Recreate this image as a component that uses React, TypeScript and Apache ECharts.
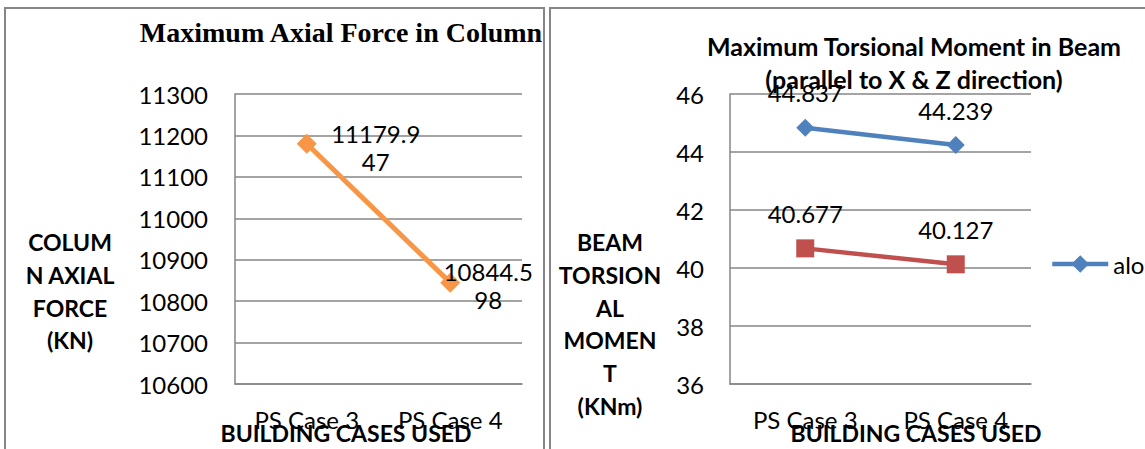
import React, { useEffect, useRef } from "react";
import * as echarts from "echarts";

const categories = ["PS Case 3", "PS Case 4"];
const axialForce = [11179.947, 10844.598];
const torsionX = [44.837, 44.239];
const torsionZ = [40.677, 40.127];
const axialTicks = { min: 10600, max: 11300, interval: 100 };
const torsionTicks = { min: 36, max: 46, interval: 2 };

const SANS = "Lato, 'Open Sans', sans-serif";
const GRAY = "#868686";
const FS = 24;

export default function App() {
  const ref = useRef<HTMLDivElement>(null);
  useEffect(() => {
    document.body.style.margin = "0";
    if (!ref.current) return;
    const chart = echarts.init(ref.current, null, { renderer: "svg" });
    const axialOffsets = [
      [69, 4],
      [38, 3],
    ];
    const tickLabel = (m: number) => ({
      fontFamily: SANS,
      fontSize: FS,
      color: "#000",
      margin: m,
      formatter: (v: number) => String(v),
    });
    const option = {
      animation: false,
      backgroundColor: "#ffffff",
      title: [
        {
          text: "Maximum Axial Force in Column",
          left: 336,
          top: 13,
          textAlign: "center",
          textStyle: {
            fontFamily: "'Liberation Serif', serif",
            fontWeight: "bold",
            fontSize: 28,
            color: "#000",
          },
        },
        {
          text: "Maximum Torsional Moment in Beam\n(parallel to X & Z direction)",
          left: 909,
          top: 24,
          textAlign: "center",
          textStyle: {
            fontFamily: SANS,
            fontWeight: "bold",
            fontSize: 25,
            lineHeight: 33,
            color: "#000",
          },
        },
      ],
      legend: {
        data: ["along X"],
        left: 1050,
        top: 252,
        padding: 0,
        itemWidth: 56,
        itemHeight: 22,
        itemGap: 4,
        lineStyle: { width: 4.5 },
        textStyle: { fontFamily: SANS, fontSize: FS, color: "#000" },
      },
      grid: [
        { left: 235, top: 94, width: 287, height: 290 },
        { left: 730, top: 94, width: 301, height: 290 },
      ],
      xAxis: [0, 1].map((i) => ({
        type: "category",
        gridIndex: i,
        data: categories,
        boundaryGap: true,
        axisLine: { show: true, lineStyle: { color: GRAY, width: 1.5 } },
        axisTick: { show: false },
        axisLabel: {
          fontFamily: SANS,
          fontSize: FS,
          color: "#000",
          margin: 23,
        },
      })),
      yAxis: [
        {
          type: "value",
          gridIndex: 0,
          ...axialTicks,
          axisLine: { show: true, lineStyle: { color: GRAY, width: 1.5 } },
          axisTick: { show: false },
          splitLine: { lineStyle: { color: GRAY, width: 1.5 } },
          axisLabel: tickLabel(27),
        },
        {
          type: "value",
          gridIndex: 1,
          ...torsionTicks,
          axisLine: { show: true, lineStyle: { color: GRAY, width: 1.5 } },
          axisTick: { show: false },
          splitLine: { lineStyle: { color: GRAY, width: 1.5 } },
          axisLabel: tickLabel(26),
        },
      ],
      series: [
        {
          name: "axial",
          type: "line",
          xAxisIndex: 0,
          yAxisIndex: 0,
          data: axialForce.map((v, i) => ({
            value: v,
            label: {
              position: "inside",
              offset: axialOffsets[i],
              align: "center",
              verticalAlign: "middle",
            },
          })),
          symbol: "diamond",
          symbolSize: 20,
          lineStyle: { color: "#F79646", width: 5 },
          itemStyle: { color: "#F79646" },
          label: {
            show: true,
            fontFamily: SANS,
            fontSize: FS,
            lineHeight: 28,
            color: "#000",
            formatter: (p: any) => {
              const s = String(p.value);
              return s.slice(0, 7) + "\n" + s.slice(7);
            },
          },
        },
        {
          name: "along X",
          type: "line",
          xAxisIndex: 1,
          yAxisIndex: 1,
          data: torsionX,
          symbol: "diamond",
          symbolSize: 18,
          lineStyle: { color: "#4F81BD", width: 4.5 },
          itemStyle: { color: "#4F81BD" },
          label: {
            show: true,
            position: "top",
            distance: 14,
            fontFamily: SANS,
            fontSize: FS,
            color: "#000",
          },
        },
        {
          name: "along Z",
          type: "line",
          xAxisIndex: 1,
          yAxisIndex: 1,
          data: torsionZ,
          symbol: "rect",
          symbolSize: 18,
          lineStyle: { color: "#C0504D", width: 4.5 },
          itemStyle: { color: "#C0504D" },
          label: {
            show: true,
            position: "top",
            distance: 14,
            fontFamily: SANS,
            fontSize: FS,
            color: "#000",
          },
        },
      ],
      graphic: [
        {
          type: "rect",
          shape: { x: 5, y: 8, width: 539, height: 470 },
          style: { fill: "none", stroke: GRAY, lineWidth: 2 },
          silent: true,
        },
        {
          type: "rect",
          shape: { x: 550, y: 8, width: 700, height: 470 },
          style: { fill: "none", stroke: GRAY, lineWidth: 2 },
          silent: true,
        },
        {
          type: "text",
          x: 70,
          y: 226,
          style: {
            text: "COLUM\nN AXIAL\nFORCE\n(KN)",
            fontFamily: SANS,
            fontWeight: "bold",
            fontSize: 23,
            lineHeight: 32.7,
            align: "center",
            verticalAlign: "top",
            fill: "#000",
          },
        },
        {
          type: "text",
          x: 610,
          y: 226,
          style: {
            text: "BEAM\nTORSION\nAL\nMOMEN\nT\n(KNm)",
            fontFamily: SANS,
            fontWeight: "bold",
            fontSize: 23,
            lineHeight: 32.7,
            align: "center",
            verticalAlign: "top",
            fill: "#000",
          },
        },
        {
          type: "text",
          x: 346,
          y: 433,
          style: {
            text: "BUILDING CASES USED",
            fontFamily: SANS,
            fontWeight: "bold",
            fontSize: 23,
            align: "center",
            verticalAlign: "middle",
            fill: "#000",
          },
        },
        {
          type: "text",
          x: 916,
          y: 433,
          style: {
            text: "BUILDING CASES USED",
            fontFamily: SANS,
            fontWeight: "bold",
            fontSize: 23,
            align: "center",
            verticalAlign: "middle",
            fill: "#000",
          },
        },
      ],
    };
    chart.setOption(option as any);
    return () => chart.dispose();
  }, []);
  return <div ref={ref} style={{ width: 1145, height: 449 }} />;
}
